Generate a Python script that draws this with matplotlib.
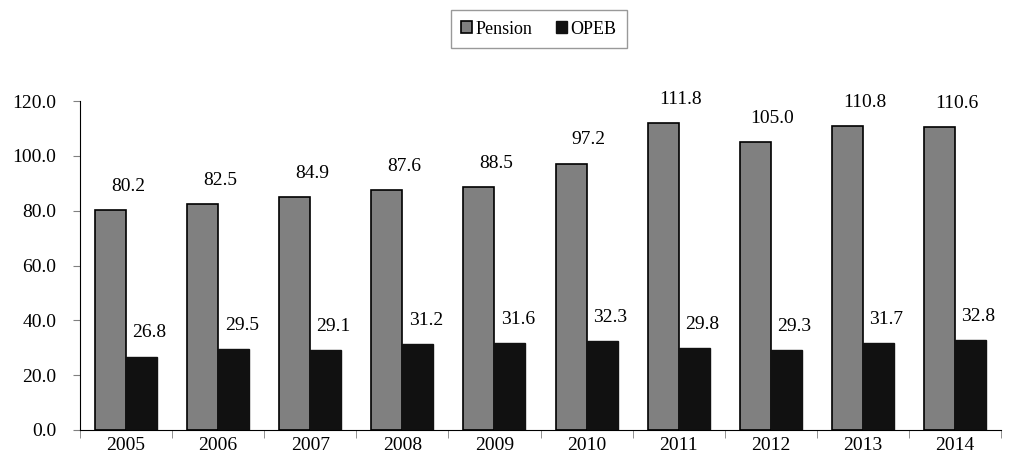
import matplotlib
matplotlib.use("Agg")
import matplotlib.pyplot as plt
import numpy as np

years = ["2005", "2006", "2007", "2008", "2009", "2010", "2011", "2012", "2013", "2014"]
pension = [80.2, 82.5, 84.9, 87.6, 88.5, 97.2, 111.8, 105.0, 110.8, 110.6]
opeb = [26.8, 29.5, 29.1, 31.2, 31.6, 32.3, 29.8, 29.3, 31.7, 32.8]

plt.rcParams['font.family'] = ['Liberation Serif', 'DejaVu Serif']

fig = plt.figure(figsize=(10.15, 4.68), dpi=100)
ax = fig.add_axes([80/1015, 38/468, 921/1015, 329/468])

x = np.arange(len(years))
w = 0.337
b1 = ax.bar(x - w/2, pension, w, color='#808080', edgecolor='black', linewidth=1.2, label='Pension')
b2 = ax.bar(x + w/2, opeb, w, color='#111111', edgecolor='#111111', linewidth=1.0, label='OPEB')

for xi, v in zip(x, pension):
    ax.text(xi + 0.02, v + 5.5, f"{v:.1f}", ha='center', va='bottom', fontsize=14)
for xi, v in zip(x, opeb):
    ax.text(xi + 0.255, v + 5.5, f"{v:.1f}", ha='center', va='bottom', fontsize=14)

ax.set_xlim(-0.5, len(years) - 0.5)
ax.set_ylim(0, 120)
ax.set_yticks(np.arange(0, 121, 20))
ax.set_yticklabels([f"{v:.1f}" for v in np.arange(0, 121, 20)], fontsize=14)
ax.set_xticks(x)
ax.set_xticklabels(years, fontsize=14)
ax.set_xticks(np.arange(-0.5, len(years)), minor=True)
ax.tick_params(axis='x', which='major', length=0, pad=5)
ax.tick_params(axis='x', which='minor', length=6, direction='out', color='#808080')
ax.tick_params(axis='y', length=5, direction='out', color='#808080', pad=12)

for s in ['top', 'right']:
    ax.spines[s].set_visible(False)
ax.spines['left'].set_color('black')
ax.spines['bottom'].set_color('black')

leg = fig.legend(handles=[b1, b2], loc='center', bbox_to_anchor=(539/1015, 1 - 29/468),
                 ncol=2, frameon=True, fontsize=13, fancybox=False, edgecolor='#808080',
                 handlelength=0.6, handleheight=0.6, handletextpad=0.2, columnspacing=1.3,
                 borderpad=0.6, borderaxespad=0)
leg.get_frame().set_linewidth(1.0)

fig.savefig("out.png", dpi=100)
